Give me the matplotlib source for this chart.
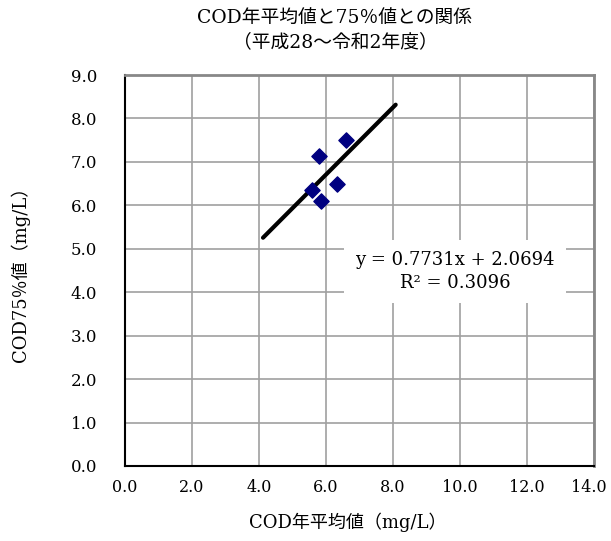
import numpy as np
import matplotlib
matplotlib.use('Agg')
from matplotlib import pyplot as plt
from matplotlib.transforms import ScaledTranslation

plt.rcParams['font.family'] = ['DejaVu Serif', 'Noto Sans CJK JP', 'DejaVu Sans']

# annual mean COD vs 75% value (H28 - R2)
cod_mean = [6.60, 5.78, 6.33, 5.57, 5.85]
cod_75 = [7.50, 7.14, 6.49, 6.36, 6.09]

slope = 0.7731
intercept = 2.0694
r_squared = 0.3096
trend_x = [4.12, 8.08]

x_ticks = [0.0, 2.0, 4.0, 6.0, 8.0, 10.0, 12.0, 14.0]
y_ticks = [0.0, 1.0, 2.0, 3.0, 4.0, 5.0, 6.0, 7.0, 8.0, 9.0]

fig = plt.figure(figsize=(6.11, 5.41), dpi=100)
ax = fig.add_axes([125 / 611, 1 - 466 / 541, 469 / 611, 391 / 541])

ax.set_xlim(0, 14)
ax.set_ylim(0, 9)
ax.set_xticks(x_ticks)
ax.set_yticks(y_ticks)
ax.set_xticklabels([f'{v:.1f}' for v in x_ticks])
ax.set_yticklabels([f'{v:.1f}' for v in y_ticks])
ax.tick_params(length=0, labelsize=12)
ax.tick_params(axis='x', pad=9, labelsize=11.5)
ax.tick_params(axis='y', pad=20)
# nudge the last x label a little left so it stays inside the picture
last = ax.get_xticklabels()[-1]
last.set_transform(last.get_transform() + ScaledTranslation(-4 / 72, 0, fig.dpi_scale_trans))
ax.grid(True, color='#a0a0a0', linewidth=1.2)
ax.set_axisbelow(True)

for side in ['top', 'right']:
    ax.spines[side].set_color('#888888')
    ax.spines[side].set_linewidth(2)
for side in ['left', 'bottom']:
    ax.spines[side].set_color('black')
    ax.spines[side].set_linewidth(1.5)

tx = np.array(trend_x)
ax.plot(tx, slope * tx + intercept, color='black', linewidth=3, solid_capstyle='round', zorder=3)
ax.scatter(cod_mean, cod_75, marker='D', s=60, color='#000080', zorder=4)

ax.text(9.85, 4.48, f'y = {slope}x + {intercept}\nR² = {r_squared}',
        ha='center', va='center', fontsize=13, linespacing=1.35,
        bbox=dict(facecolor='white', edgecolor='none', pad=8), zorder=5)

fig.text(335 / 611, 1 - 18 / 541, 'COD年平均値と75％値との関係', ha='center', va='center', fontsize=13.5)
fig.text(335 / 611, 1 - 42 / 541, '（平成28～令和2年度）', ha='center', va='center', fontsize=13.5)
fig.text(348 / 611, 1 - 522 / 541, 'COD年平均値（mg/L）', ha='center', va='center', fontsize=13)
fig.text(20 / 611, 1 - 270 / 541, 'COD75％値（mg/L）', ha='center', va='center', fontsize=13,
         rotation=90)

plt.savefig('out.png', dpi=100)
